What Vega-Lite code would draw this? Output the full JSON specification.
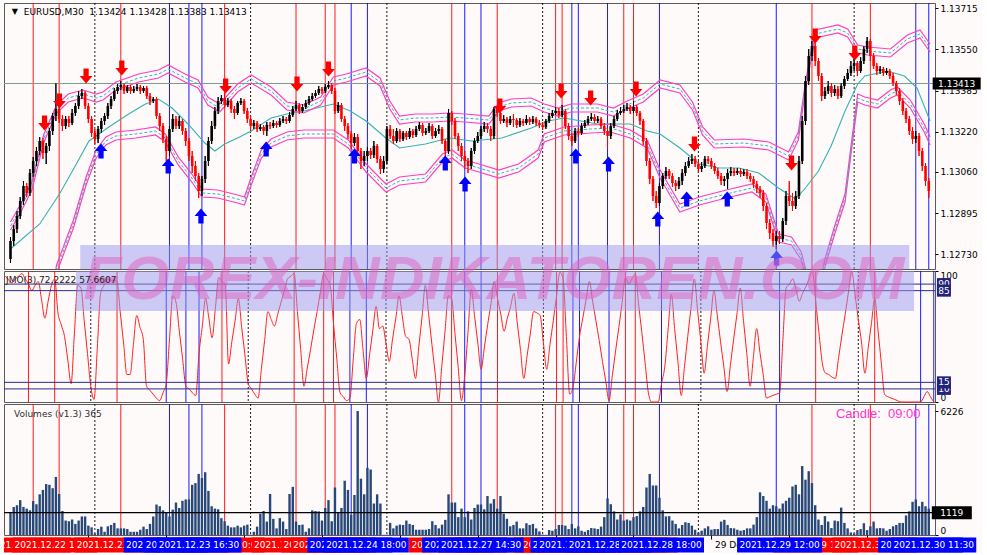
{
"$schema":"https://vega.github.io/schema/vega-lite/v6.json",
"background":"#fffafa",
"padding":{"left":2,"top":2,"right":0,"bottom":0},
"bounds":"flush",
"spacing":2,
"config":{"view":{"stroke":"#5a5a5a","strokeWidth":1},"axis":{"labelFont":"DejaVu Sans","labelFontSize":9,"labelColor":"#000000","tickColor":"#000000","tickSize":3,"domain":false,"grid":false,"labelPadding":2},"text":{"font":"DejaVu Sans"}},
"datasets":{
"c":[
{"i":0,"o":1.12711,"h":1.12799,"l":1.12695,"c":1.12783,"v":1154,"j":96},
{"i":1,"o":1.12783,"h":1.12847,"l":1.12763,"c":1.12831,"v":1410,"j":93},
{"i":2,"o":1.12831,"h":1.12903,"l":1.12815,"c":1.12883,"v":1496,"j":91},
{"i":3,"o":1.12883,"h":1.12959,"l":1.12871,"c":1.12943,"v":1752,"j":94},
{"i":4,"o":1.12943,"h":1.13023,"l":1.12927,"c":1.13003,"v":1410,"j":96},
{"i":5,"o":1.13003,"h":1.13015,"l":1.12959,"c":1.12975,"v":1325,"j":98},
{"i":6,"o":1.12975,"h":1.13071,"l":1.12963,"c":1.13055,"v":1239,"j":94},
{"i":7,"o":1.13055,"h":1.13119,"l":1.13039,"c":1.13103,"v":1701,"j":90},
{"i":8,"o":1.13103,"h":1.13159,"l":1.13083,"c":1.13143,"v":1547,"j":85},
{"i":9,"o":1.13143,"h":1.13199,"l":1.13127,"c":1.13183,"v":2043,"j":89},
{"i":10,"o":1.13183,"h":1.13195,"l":1.13111,"c":1.13135,"v":2265,"j":92},
{"i":11,"o":1.13135,"h":1.13175,"l":1.13091,"c":1.13163,"v":2556,"j":78},
{"i":12,"o":1.13163,"h":1.13235,"l":1.13143,"c":1.13223,"v":2521,"j":64},
{"i":13,"o":1.13223,"h":1.13295,"l":1.13207,"c":1.13283,"v":2350,"j":77},
{"i":14,"o":1.13283,"h":1.13415,"l":1.13263,"c":1.13311,"v":2915,"j":89},
{"i":15,"o":1.13311,"h":1.13327,"l":1.13255,"c":1.13271,"v":2060,"j":94},
{"i":16,"o":1.13271,"h":1.13287,"l":1.13223,"c":1.13243,"v":1205,"j":68},
{"i":17,"o":1.13243,"h":1.13283,"l":1.13231,"c":1.13271,"v":726,"j":59},
{"i":18,"o":1.13271,"h":1.13283,"l":1.13239,"c":1.13255,"v":692,"j":50},
{"i":19,"o":1.13255,"h":1.13311,"l":1.13247,"c":1.13295,"v":778,"j":32},
{"i":20,"o":1.13295,"h":1.13335,"l":1.13283,"c":1.13323,"v":556,"j":14},
{"i":21,"o":1.13323,"h":1.13383,"l":1.13311,"c":1.13363,"v":726,"j":52},
{"i":22,"o":1.13363,"h":1.13391,"l":1.13351,"c":1.13375,"v":932,"j":89},
{"i":23,"o":1.13375,"h":1.13383,"l":1.13311,"c":1.13323,"v":932,"j":87},
{"i":24,"o":1.13323,"h":1.13335,"l":1.13255,"c":1.13271,"v":470,"j":62},
{"i":25,"o":1.13271,"h":1.13283,"l":1.13199,"c":1.13215,"v":385,"j":37},
{"i":26,"o":1.13215,"h":1.13231,"l":1.13171,"c":1.13191,"v":77,"j":12},
{"i":27,"o":1.13191,"h":1.13243,"l":1.13175,"c":1.13231,"v":299,"j":2},
{"i":28,"o":1.13231,"h":1.13275,"l":1.13215,"c":1.13263,"v":419,"j":42},
{"i":29,"o":1.13263,"h":1.13295,"l":1.13247,"c":1.13283,"v":162,"j":83},
{"i":30,"o":1.13283,"h":1.13335,"l":1.13271,"c":1.13323,"v":436,"j":89},
{"i":31,"o":1.13323,"h":1.13363,"l":1.13311,"c":1.13351,"v":504,"j":94},
{"i":32,"o":1.13351,"h":1.13395,"l":1.13343,"c":1.13383,"v":607,"j":93},
{"i":33,"o":1.13383,"h":1.13411,"l":1.13371,"c":1.13399,"v":333,"j":93},
{"i":34,"o":1.13399,"h":1.13423,"l":1.13387,"c":1.13407,"v":333,"j":92},
{"i":35,"o":1.13407,"h":1.13415,"l":1.13371,"c":1.13383,"v":333,"j":68},
{"i":36,"o":1.13383,"h":1.13407,"l":1.13375,"c":1.13399,"v":299,"j":45},
{"i":37,"o":1.13399,"h":1.13407,"l":1.13371,"c":1.13383,"v":162,"j":21},
{"i":38,"o":1.13383,"h":1.13403,"l":1.13375,"c":1.13391,"v":162,"j":21},
{"i":39,"o":1.13391,"h":1.13411,"l":1.13383,"c":1.13399,"v":162,"j":44},
{"i":40,"o":1.13399,"h":1.13407,"l":1.13371,"c":1.13383,"v":265,"j":66},
{"i":41,"o":1.13383,"h":1.13403,"l":1.13375,"c":1.13395,"v":419,"j":57},
{"i":42,"o":1.13395,"h":1.13403,"l":1.13351,"c":1.13363,"v":299,"j":48},
{"i":43,"o":1.13363,"h":1.13375,"l":1.13327,"c":1.13343,"v":556,"j":12},
{"i":44,"o":1.13343,"h":1.13359,"l":1.13335,"c":1.13351,"v":932,"j":9},
{"i":45,"o":1.13351,"h":1.13359,"l":1.13271,"c":1.13283,"v":1530,"j":6},
{"i":46,"o":1.13283,"h":1.13295,"l":1.13223,"c":1.13243,"v":1445,"j":3},
{"i":47,"o":1.13243,"h":1.13255,"l":1.13175,"c":1.13191,"v":1239,"j":1},
{"i":48,"o":1.13191,"h":1.13203,"l":1.13103,"c":1.13143,"v":1154,"j":7},
{"i":49,"o":1.13143,"h":1.13243,"l":1.13123,"c":1.13231,"v":932,"j":14},
{"i":50,"o":1.13231,"h":1.13291,"l":1.13219,"c":1.13271,"v":1273,"j":48},
{"i":51,"o":1.13271,"h":1.13283,"l":1.13231,"c":1.13243,"v":1632,"j":81},
{"i":52,"o":1.13243,"h":1.13283,"l":1.13231,"c":1.13263,"v":1359,"j":76},
{"i":53,"o":1.13263,"h":1.13271,"l":1.13207,"c":1.13223,"v":1718,"j":54},
{"i":54,"o":1.13223,"h":1.13235,"l":1.13163,"c":1.13183,"v":1786,"j":33},
{"i":55,"o":1.13183,"h":1.13195,"l":1.13103,"c":1.13123,"v":1786,"j":12},
{"i":56,"o":1.13123,"h":1.13143,"l":1.13055,"c":1.13083,"v":2521,"j":10},
{"i":57,"o":1.13083,"h":1.13103,"l":1.13023,"c":1.13043,"v":2607,"j":7},
{"i":58,"o":1.13043,"h":1.13055,"l":1.12955,"c":1.12983,"v":3068,"j":5},
{"i":59,"o":1.12983,"h":1.13043,"l":1.12963,"c":1.13031,"v":2863,"j":37},
{"i":60,"o":1.13031,"h":1.13123,"l":1.13015,"c":1.13103,"v":3154,"j":58},
{"i":61,"o":1.13103,"h":1.13199,"l":1.13083,"c":1.13183,"v":2214,"j":79},
{"i":62,"o":1.13183,"h":1.13263,"l":1.13171,"c":1.13243,"v":1445,"j":64},
{"i":63,"o":1.13243,"h":1.13319,"l":1.13231,"c":1.13303,"v":1325,"j":49},
{"i":64,"o":1.13303,"h":1.13359,"l":1.13291,"c":1.13343,"v":1291,"j":72},
{"i":65,"o":1.13343,"h":1.13367,"l":1.13331,"c":1.13355,"v":846,"j":95},
{"i":66,"o":1.13355,"h":1.13375,"l":1.13315,"c":1.13327,"v":692,"j":92},
{"i":67,"o":1.13327,"h":1.13355,"l":1.13319,"c":1.13343,"v":470,"j":89},
{"i":68,"o":1.13343,"h":1.13351,"l":1.13295,"c":1.13311,"v":385,"j":29},
{"i":69,"o":1.13311,"h":1.13323,"l":1.13271,"c":1.13295,"v":385,"j":46},
{"i":70,"o":1.13295,"h":1.13343,"l":1.13287,"c":1.13335,"v":470,"j":62},
{"i":71,"o":1.13335,"h":1.13355,"l":1.13327,"c":1.13343,"v":385,"j":79},
{"i":72,"o":1.13343,"h":1.13351,"l":1.13291,"c":1.13303,"v":470,"j":57},
{"i":73,"o":1.13303,"h":1.13315,"l":1.13255,"c":1.13271,"v":521,"j":36},
{"i":74,"o":1.13271,"h":1.13283,"l":1.13223,"c":1.13243,"v":20,"j":14},
{"i":75,"o":1.13243,"h":1.13267,"l":1.13231,"c":1.13255,"v":162,"j":10},
{"i":76,"o":1.13255,"h":1.13263,"l":1.13219,"c":1.13231,"v":419,"j":6},
{"i":77,"o":1.13231,"h":1.13251,"l":1.13223,"c":1.13239,"v":1068,"j":3},
{"i":78,"o":1.13239,"h":1.13247,"l":1.13207,"c":1.13223,"v":1205,"j":25},
{"i":79,"o":1.13223,"h":1.13259,"l":1.13203,"c":1.13247,"v":675,"j":47},
{"i":80,"o":1.13247,"h":1.13259,"l":1.13231,"c":1.13243,"v":2060,"j":69},
{"i":81,"o":1.13243,"h":1.13267,"l":1.13235,"c":1.13255,"v":812,"j":63},
{"i":82,"o":1.13255,"h":1.13263,"l":1.13235,"c":1.13247,"v":333,"j":58},
{"i":83,"o":1.13247,"h":1.13275,"l":1.13239,"c":1.13263,"v":846,"j":67},
{"i":84,"o":1.13263,"h":1.13283,"l":1.13255,"c":1.13271,"v":675,"j":76},
{"i":85,"o":1.13271,"h":1.13279,"l":1.13251,"c":1.13263,"v":299,"j":85},
{"i":86,"o":1.13263,"h":1.13299,"l":1.13255,"c":1.13287,"v":2060,"j":94},
{"i":87,"o":1.13287,"h":1.13323,"l":1.13279,"c":1.13311,"v":2419,"j":96},
{"i":88,"o":1.13311,"h":1.13343,"l":1.13303,"c":1.13327,"v":675,"j":98},
{"i":89,"o":1.13327,"h":1.13335,"l":1.13291,"c":1.13303,"v":504,"j":69},
{"i":90,"o":1.13303,"h":1.13331,"l":1.13295,"c":1.13319,"v":521,"j":40},
{"i":91,"o":1.13319,"h":1.13347,"l":1.13311,"c":1.13335,"v":162,"j":12},
{"i":92,"o":1.13335,"h":1.13363,"l":1.13327,"c":1.13351,"v":333,"j":26},
{"i":93,"o":1.13351,"h":1.13375,"l":1.13343,"c":1.13363,"v":1239,"j":40},
{"i":94,"o":1.13363,"h":1.13387,"l":1.13355,"c":1.13375,"v":1205,"j":55},
{"i":95,"o":1.13375,"h":1.13403,"l":1.13367,"c":1.13391,"v":1188,"j":69},
{"i":96,"o":1.13391,"h":1.13399,"l":1.13371,"c":1.13383,"v":726,"j":84},
{"i":97,"o":1.13383,"h":1.13411,"l":1.13375,"c":1.13399,"v":1359,"j":98},
{"i":98,"o":1.13399,"h":1.13423,"l":1.13391,"c":1.13407,"v":1752,"j":94},
{"i":99,"o":1.13407,"h":1.13415,"l":1.13371,"c":1.13383,"v":692,"j":89},
{"i":100,"o":1.13383,"h":1.13395,"l":1.13291,"c":1.13303,"v":2385,"j":60},
{"i":101,"o":1.13303,"h":1.13339,"l":1.13295,"c":1.13327,"v":1154,"j":33},
{"i":102,"o":1.13327,"h":1.13335,"l":1.13259,"c":1.13271,"v":1359,"j":7},
{"i":103,"o":1.13271,"h":1.13283,"l":1.13223,"c":1.13243,"v":2726,"j":4},
{"i":104,"o":1.13243,"h":1.13255,"l":1.13191,"c":1.13211,"v":2265,"j":1},
{"i":105,"o":1.13211,"h":1.13223,"l":1.13151,"c":1.13175,"v":1017,"j":3},
{"i":106,"o":1.13175,"h":1.13215,"l":1.13163,"c":1.13199,"v":2009,"j":32},
{"i":107,"o":1.13199,"h":1.13211,"l":1.13123,"c":1.13143,"v":6226,"j":60},
{"i":108,"o":1.13143,"h":1.13155,"l":1.13071,"c":1.13103,"v":2829,"j":63},
{"i":109,"o":1.13103,"h":1.13143,"l":1.13083,"c":1.13123,"v":2043,"j":40},
{"i":110,"o":1.13123,"h":1.13159,"l":1.13103,"c":1.13143,"v":3376,"j":18},
{"i":111,"o":1.13143,"h":1.13155,"l":1.13111,"c":1.13127,"v":3291,"j":36},
{"i":112,"o":1.13127,"h":1.13183,"l":1.13115,"c":1.13163,"v":1581,"j":55},
{"i":113,"o":1.13163,"h":1.13171,"l":1.13095,"c":1.13111,"v":2043,"j":73},
{"i":114,"o":1.13111,"h":1.13123,"l":1.13051,"c":1.13071,"v":1581,"j":56},
{"i":115,"o":1.13071,"h":1.13123,"l":1.13055,"c":1.13103,"v":10,"j":58},
{"i":116,"o":1.13103,"h":1.13243,"l":1.13091,"c":1.13231,"v":20,"j":45},
{"i":117,"o":1.13231,"h":1.13247,"l":1.13191,"c":1.13203,"v":607,"j":31},
{"i":118,"o":1.13203,"h":1.13231,"l":1.13171,"c":1.13183,"v":333,"j":48},
{"i":119,"o":1.13183,"h":1.13235,"l":1.13175,"c":1.13223,"v":470,"j":64},
{"i":120,"o":1.13223,"h":1.13231,"l":1.13179,"c":1.13191,"v":521,"j":81},
{"i":121,"o":1.13191,"h":1.13223,"l":1.13183,"c":1.13215,"v":504,"j":65},
{"i":122,"o":1.13215,"h":1.13223,"l":1.13187,"c":1.13199,"v":726,"j":50},
{"i":123,"o":1.13199,"h":1.13235,"l":1.13191,"c":1.13223,"v":556,"j":48},
{"i":124,"o":1.13223,"h":1.13231,"l":1.13195,"c":1.13207,"v":504,"j":33},
{"i":125,"o":1.13207,"h":1.13243,"l":1.13199,"c":1.13231,"v":265,"j":18},
{"i":126,"o":1.13231,"h":1.13259,"l":1.13223,"c":1.13247,"v":265,"j":42},
{"i":127,"o":1.13247,"h":1.13255,"l":1.13203,"c":1.13215,"v":265,"j":65},
{"i":128,"o":1.13215,"h":1.13235,"l":1.13207,"c":1.13223,"v":265,"j":89},
{"i":129,"o":1.13223,"h":1.13255,"l":1.13215,"c":1.13243,"v":299,"j":67},
{"i":130,"o":1.13243,"h":1.13251,"l":1.13191,"c":1.13203,"v":692,"j":44},
{"i":131,"o":1.13203,"h":1.13235,"l":1.13195,"c":1.13223,"v":504,"j":22},
{"i":132,"o":1.13223,"h":1.13247,"l":1.13211,"c":1.13231,"v":333,"j":0},
{"i":133,"o":1.13231,"h":1.13239,"l":1.13171,"c":1.13183,"v":521,"j":27},
{"i":134,"o":1.13183,"h":1.13191,"l":1.13115,"c":1.13143,"v":761,"j":54},
{"i":135,"o":1.13143,"h":1.13311,"l":1.13131,"c":1.13295,"v":2043,"j":81},
{"i":136,"o":1.13295,"h":1.13303,"l":1.13247,"c":1.13263,"v":1632,"j":79},
{"i":137,"o":1.13263,"h":1.13275,"l":1.13191,"c":1.13203,"v":1632,"j":53},
{"i":138,"o":1.13203,"h":1.13215,"l":1.13143,"c":1.13163,"v":897,"j":27},
{"i":139,"o":1.13163,"h":1.13175,"l":1.13103,"c":1.13123,"v":1325,"j":1},
{"i":140,"o":1.13123,"h":1.13143,"l":1.13071,"c":1.13103,"v":897,"j":20},
{"i":141,"o":1.13103,"h":1.13115,"l":1.13055,"c":1.13083,"v":1188,"j":53},
{"i":142,"o":1.13083,"h":1.13155,"l":1.13071,"c":1.13143,"v":778,"j":86},
{"i":143,"o":1.13143,"h":1.13195,"l":1.13131,"c":1.13183,"v":1359,"j":66},
{"i":144,"o":1.13183,"h":1.13219,"l":1.13175,"c":1.13203,"v":1530,"j":45},
{"i":145,"o":1.13203,"h":1.13243,"l":1.13191,"c":1.13231,"v":1530,"j":25},
{"i":146,"o":1.13231,"h":1.13259,"l":1.13219,"c":1.13243,"v":1291,"j":42},
{"i":147,"o":1.13243,"h":1.13255,"l":1.13215,"c":1.13231,"v":1957,"j":59},
{"i":148,"o":1.13231,"h":1.13243,"l":1.13183,"c":1.13203,"v":1581,"j":75},
{"i":149,"o":1.13203,"h":1.13319,"l":1.13191,"c":1.13311,"v":1803,"j":92},
{"i":150,"o":1.13311,"h":1.13323,"l":1.13279,"c":1.13295,"v":1325,"j":79},
{"i":151,"o":1.13295,"h":1.13303,"l":1.13251,"c":1.13263,"v":1957,"j":67},
{"i":152,"o":1.13263,"h":1.13287,"l":1.13255,"c":1.13271,"v":1068,"j":54},
{"i":153,"o":1.13271,"h":1.13279,"l":1.13239,"c":1.13255,"v":812,"j":64},
{"i":154,"o":1.13255,"h":1.13283,"l":1.13247,"c":1.13271,"v":436,"j":73},
{"i":155,"o":1.13271,"h":1.13291,"l":1.13239,"c":1.13267,"v":504,"j":83},
{"i":156,"o":1.13267,"h":1.13275,"l":1.13235,"c":1.13247,"v":675,"j":61},
{"i":157,"o":1.13247,"h":1.13275,"l":1.13239,"c":1.13263,"v":333,"j":40},
{"i":158,"o":1.13263,"h":1.13271,"l":1.13243,"c":1.13255,"v":333,"j":18},
{"i":159,"o":1.13255,"h":1.13287,"l":1.13247,"c":1.13271,"v":590,"j":35},
{"i":160,"o":1.13271,"h":1.13279,"l":1.13247,"c":1.13259,"v":504,"j":52},
{"i":161,"o":1.13259,"h":1.13283,"l":1.13251,"c":1.13271,"v":556,"j":69},
{"i":162,"o":1.13271,"h":1.13279,"l":1.13243,"c":1.13255,"v":333,"j":68},
{"i":163,"o":1.13255,"h":1.13267,"l":1.13235,"c":1.13247,"v":180,"j":66},
{"i":164,"o":1.13247,"h":1.13259,"l":1.13227,"c":1.13239,"v":20,"j":45},
{"i":165,"o":1.13239,"h":1.13271,"l":1.13231,"c":1.13263,"v":10,"j":25},
{"i":166,"o":1.13263,"h":1.13295,"l":1.13255,"c":1.13283,"v":248,"j":44},
{"i":167,"o":1.13283,"h":1.13307,"l":1.13275,"c":1.13295,"v":214,"j":62},
{"i":168,"o":1.13295,"h":1.13319,"l":1.13287,"c":1.13303,"v":299,"j":81},
{"i":169,"o":1.13303,"h":1.13315,"l":1.13275,"c":1.13287,"v":504,"j":99},
{"i":170,"o":1.13287,"h":1.13327,"l":1.13279,"c":1.13303,"v":504,"j":94},
{"i":171,"o":1.13303,"h":1.13311,"l":1.13231,"c":1.13243,"v":470,"j":50},
{"i":172,"o":1.13243,"h":1.13255,"l":1.13187,"c":1.13203,"v":299,"j":6},
{"i":173,"o":1.13203,"h":1.13215,"l":1.13163,"c":1.13183,"v":556,"j":11},
{"i":174,"o":1.13183,"h":1.13235,"l":1.13175,"c":1.13223,"v":333,"j":30},
{"i":175,"o":1.13223,"h":1.13235,"l":1.13199,"c":1.13215,"v":436,"j":50},
{"i":176,"o":1.13215,"h":1.13255,"l":1.13207,"c":1.13243,"v":214,"j":64},
{"i":177,"o":1.13243,"h":1.13267,"l":1.13235,"c":1.13255,"v":162,"j":78},
{"i":178,"o":1.13255,"h":1.13283,"l":1.13247,"c":1.13271,"v":248,"j":92},
{"i":179,"o":1.13271,"h":1.13295,"l":1.13263,"c":1.13279,"v":350,"j":77},
{"i":180,"o":1.13279,"h":1.13291,"l":1.13255,"c":1.13263,"v":333,"j":62},
{"i":181,"o":1.13263,"h":1.13283,"l":1.13255,"c":1.13271,"v":299,"j":47},
{"i":182,"o":1.13271,"h":1.13279,"l":1.13231,"c":1.13243,"v":419,"j":31},
{"i":183,"o":1.13243,"h":1.13255,"l":1.13207,"c":1.13223,"v":897,"j":16},
{"i":184,"o":1.13223,"h":1.13235,"l":1.13151,"c":1.13203,"v":1838,"j":1},
{"i":185,"o":1.13203,"h":1.13255,"l":1.13191,"c":1.13243,"v":1547,"j":20},
{"i":186,"o":1.13243,"h":1.13283,"l":1.13235,"c":1.13271,"v":1188,"j":39},
{"i":187,"o":1.13271,"h":1.13307,"l":1.13263,"c":1.13295,"v":778,"j":57},
{"i":188,"o":1.13295,"h":1.13319,"l":1.13287,"c":1.13303,"v":1034,"j":76},
{"i":189,"o":1.13303,"h":1.13327,"l":1.13295,"c":1.13311,"v":726,"j":95},
{"i":190,"o":1.13311,"h":1.13335,"l":1.13303,"c":1.13319,"v":778,"j":90},
{"i":191,"o":1.13319,"h":1.13327,"l":1.13291,"c":1.13303,"v":726,"j":94},
{"i":192,"o":1.13303,"h":1.13343,"l":1.13295,"c":1.13319,"v":897,"j":98},
{"i":193,"o":1.13319,"h":1.13327,"l":1.13283,"c":1.13295,"v":949,"j":75},
{"i":194,"o":1.13295,"h":1.13303,"l":1.13247,"c":1.13263,"v":1188,"j":53},
{"i":195,"o":1.13263,"h":1.13271,"l":1.13167,"c":1.13183,"v":1410,"j":30},
{"i":196,"o":1.13183,"h":1.13195,"l":1.13083,"c":1.13103,"v":2385,"j":7},
{"i":197,"o":1.13103,"h":1.13115,"l":1.13011,"c":1.13031,"v":3068,"j":0},
{"i":198,"o":1.13031,"h":1.13043,"l":1.12943,"c":1.12963,"v":2487,"j":0},
{"i":199,"o":1.12963,"h":1.12983,"l":1.12915,"c":1.12935,"v":2487,"j":0},
{"i":200,"o":1.12935,"h":1.13015,"l":1.12923,"c":1.13003,"v":1872,"j":14},
{"i":201,"o":1.13003,"h":1.13055,"l":1.12991,"c":1.13043,"v":1239,"j":27},
{"i":202,"o":1.13043,"h":1.13079,"l":1.13031,"c":1.13063,"v":932,"j":55},
{"i":203,"o":1.13063,"h":1.13071,"l":1.13031,"c":1.13043,"v":949,"j":82},
{"i":204,"o":1.13043,"h":1.13055,"l":1.12999,"c":1.13015,"v":726,"j":56},
{"i":205,"o":1.13015,"h":1.13027,"l":1.12983,"c":1.13003,"v":556,"j":31},
{"i":206,"o":1.13003,"h":1.13039,"l":1.12991,"c":1.13023,"v":333,"j":5},
{"i":207,"o":1.13023,"h":1.13071,"l":1.13007,"c":1.13055,"v":504,"j":27},
{"i":208,"o":1.13055,"h":1.13099,"l":1.13043,"c":1.13083,"v":641,"j":50},
{"i":209,"o":1.13083,"h":1.13119,"l":1.13075,"c":1.13103,"v":607,"j":72},
{"i":210,"o":1.13103,"h":1.13131,"l":1.13091,"c":1.13111,"v":470,"j":94},
{"i":211,"o":1.13111,"h":1.13123,"l":1.13079,"c":1.13091,"v":265,"j":70},
{"i":212,"o":1.13091,"h":1.13103,"l":1.13055,"c":1.13071,"v":128,"j":46},
{"i":213,"o":1.13071,"h":1.13099,"l":1.13059,"c":1.13083,"v":214,"j":22},
{"i":214,"o":1.13083,"h":1.13123,"l":1.13075,"c":1.13111,"v":333,"j":43},
{"i":215,"o":1.13111,"h":1.13123,"l":1.13091,"c":1.13103,"v":436,"j":64},
{"i":216,"o":1.13103,"h":1.13115,"l":1.13071,"c":1.13083,"v":265,"j":85},
{"i":217,"o":1.13083,"h":1.13095,"l":1.13051,"c":1.13063,"v":299,"j":66},
{"i":218,"o":1.13063,"h":1.13075,"l":1.13031,"c":1.13043,"v":299,"j":46},
{"i":219,"o":1.13043,"h":1.13055,"l":1.13007,"c":1.13023,"v":675,"j":27},
{"i":220,"o":1.13023,"h":1.13043,"l":1.13003,"c":1.13031,"v":761,"j":8},
{"i":221,"o":1.13031,"h":1.13071,"l":1.12991,"c":1.13055,"v":504,"j":28},
{"i":222,"o":1.13055,"h":1.13079,"l":1.13043,"c":1.13063,"v":350,"j":48},
{"i":223,"o":1.13063,"h":1.13075,"l":1.13043,"c":1.13055,"v":333,"j":67},
{"i":224,"o":1.13055,"h":1.13075,"l":1.13047,"c":1.13063,"v":265,"j":87},
{"i":225,"o":1.13063,"h":1.13075,"l":1.13039,"c":1.13051,"v":214,"j":62},
{"i":226,"o":1.13051,"h":1.13071,"l":1.13043,"c":1.13059,"v":248,"j":37},
{"i":227,"o":1.13059,"h":1.13071,"l":1.13031,"c":1.13043,"v":333,"j":12},
{"i":228,"o":1.13043,"h":1.13055,"l":1.13019,"c":1.13031,"v":333,"j":34},
{"i":229,"o":1.13031,"h":1.13043,"l":1.12995,"c":1.13011,"v":521,"j":56},
{"i":230,"o":1.13011,"h":1.13023,"l":1.12975,"c":1.12991,"v":897,"j":38},
{"i":231,"o":1.12991,"h":1.13003,"l":1.12955,"c":1.12975,"v":2145,"j":21},
{"i":232,"o":1.12975,"h":1.12987,"l":1.12903,"c":1.12923,"v":1957,"j":3},
{"i":233,"o":1.12923,"h":1.12935,"l":1.12831,"c":1.12855,"v":1718,"j":4},
{"i":234,"o":1.12855,"h":1.12871,"l":1.12791,"c":1.12815,"v":1325,"j":5},
{"i":235,"o":1.12815,"h":1.12831,"l":1.12759,"c":1.12783,"v":1496,"j":6},
{"i":236,"o":1.12783,"h":1.12823,"l":1.12751,"c":1.12803,"v":1445,"j":7},
{"i":237,"o":1.12803,"h":1.12823,"l":1.12771,"c":1.12791,"v":1325,"j":47},
{"i":238,"o":1.12791,"h":1.12875,"l":1.12779,"c":1.12863,"v":1581,"j":87},
{"i":239,"o":1.12863,"h":1.12983,"l":1.12847,"c":1.12963,"v":1718,"j":90},
{"i":240,"o":1.12963,"h":1.13023,"l":1.12923,"c":1.12943,"v":1872,"j":94},
{"i":241,"o":1.12943,"h":1.12975,"l":1.12903,"c":1.12923,"v":2436,"j":86},
{"i":242,"o":1.12923,"h":1.12983,"l":1.12911,"c":1.12963,"v":2521,"j":77},
{"i":243,"o":1.12963,"h":1.13123,"l":1.12951,"c":1.13103,"v":2043,"j":83},
{"i":244,"o":1.13103,"h":1.13283,"l":1.13091,"c":1.13263,"v":3462,"j":88},
{"i":245,"o":1.13263,"h":1.13443,"l":1.13247,"c":1.13423,"v":2778,"j":94},
{"i":246,"o":1.13423,"h":1.13551,"l":1.13407,"c":1.13523,"v":3205,"j":100},
{"i":247,"o":1.13523,"h":1.13583,"l":1.13503,"c":1.13563,"v":2607,"j":77},
{"i":248,"o":1.13563,"h":1.13575,"l":1.13483,"c":1.13503,"v":1496,"j":53},
{"i":249,"o":1.13503,"h":1.13515,"l":1.13423,"c":1.13443,"v":778,"j":30},
{"i":250,"o":1.13443,"h":1.13455,"l":1.13343,"c":1.13363,"v":504,"j":22},
{"i":251,"o":1.13363,"h":1.13399,"l":1.13351,"c":1.13383,"v":949,"j":21},
{"i":252,"o":1.13383,"h":1.13423,"l":1.13371,"c":1.13403,"v":675,"j":19},
{"i":253,"o":1.13403,"h":1.13415,"l":1.13359,"c":1.13375,"v":350,"j":18},
{"i":254,"o":1.13375,"h":1.13407,"l":1.13363,"c":1.13391,"v":726,"j":34},
{"i":255,"o":1.13391,"h":1.13403,"l":1.13351,"c":1.13363,"v":692,"j":51},
{"i":256,"o":1.13363,"h":1.13415,"l":1.13355,"c":1.13403,"v":1376,"j":67},
{"i":257,"o":1.13403,"h":1.13443,"l":1.13391,"c":1.13431,"v":607,"j":84},
{"i":258,"o":1.13431,"h":1.13471,"l":1.13423,"c":1.13455,"v":333,"j":100},
{"i":259,"o":1.13455,"h":1.13503,"l":1.13443,"c":1.13483,"v":128,"j":82},
{"i":260,"o":1.13483,"h":1.13511,"l":1.13463,"c":1.13495,"v":77,"j":63},
{"i":261,"o":1.13495,"h":1.13503,"l":1.13443,"c":1.13463,"v":248,"j":45},
{"i":262,"o":1.13463,"h":1.13519,"l":1.13455,"c":1.13503,"v":299,"j":22},
{"i":263,"o":1.13503,"h":1.13563,"l":1.13491,"c":1.13551,"v":590,"j":41},
{"i":264,"o":1.13551,"h":1.13599,"l":1.13535,"c":1.13583,"v":248,"j":60},
{"i":265,"o":1.13583,"h":1.13591,"l":1.13503,"c":1.13523,"v":436,"j":79},
{"i":266,"o":1.13523,"h":1.13535,"l":1.13471,"c":1.13483,"v":675,"j":55},
{"i":267,"o":1.13483,"h":1.13495,"l":1.13447,"c":1.13463,"v":333,"j":30},
{"i":268,"o":1.13463,"h":1.13483,"l":1.13451,"c":1.13471,"v":350,"j":6},
{"i":269,"o":1.13471,"h":1.13479,"l":1.13443,"c":1.13455,"v":333,"j":4},
{"i":270,"o":1.13455,"h":1.13475,"l":1.13447,"c":1.13463,"v":214,"j":3},
{"i":271,"o":1.13463,"h":1.13471,"l":1.13431,"c":1.13443,"v":299,"j":2},
{"i":272,"o":1.13443,"h":1.13455,"l":1.13403,"c":1.13415,"v":436,"j":1},
{"i":273,"o":1.13415,"h":1.13423,"l":1.13367,"c":1.13383,"v":504,"j":0},
{"i":274,"o":1.13383,"h":1.13395,"l":1.13327,"c":1.13343,"v":607,"j":0},
{"i":275,"o":1.13343,"h":1.13355,"l":1.13287,"c":1.13303,"v":607,"j":0},
{"i":276,"o":1.13303,"h":1.13315,"l":1.13255,"c":1.13271,"v":983,"j":0},
{"i":277,"o":1.13271,"h":1.13283,"l":1.13207,"c":1.13223,"v":1188,"j":0},
{"i":278,"o":1.13223,"h":1.13239,"l":1.13171,"c":1.13191,"v":1667,"j":0},
{"i":279,"o":1.13191,"h":1.13223,"l":1.13175,"c":1.13203,"v":1786,"j":0},
{"i":280,"o":1.13203,"h":1.13215,"l":1.13123,"c":1.13143,"v":1445,"j":4},
{"i":281,"o":1.13143,"h":1.13155,"l":1.13063,"c":1.13083,"v":1667,"j":8},
{"i":282,"o":1.13083,"h":1.13095,"l":1.13003,"c":1.13023,"v":1445,"j":4},
{"i":283,"o":1.13023,"h":1.13035,"l":1.12955,"c":1.12983,"v":1325,"j":0}
],
"vl":[
{"i":7,"t":"r","k":0,"s":"2021.12.22 14:30"},
{"i":15,"t":"r","k":1,"s":"2021.12.22 18:30"},
{"i":34,"t":"r","k":2,"s":"2021.12.23 04:00"},
{"i":66,"t":"r","k":3,"s":"2021.12.23 20:00"},
{"i":88,"t":"r","k":4,"s":"2021.12.24 07:00"},
{"i":97,"t":"r","k":5,"s":"2021.12.24 11:30"},
{"i":100,"t":"r","k":6,"s":"2021.12.24 13:00"},
{"i":136,"t":"r","k":7,"s":"2021.12.27 10:00"},
{"i":150,"t":"r","k":8,"s":"2021.12.27 17:00"},
{"i":168,"t":"r","k":9,"s":"2021.12.28 02:00"},
{"i":170,"t":"r","k":10,"s":"2021.12.28 03:00"},
{"i":189,"t":"r","k":11,"s":"2021.12.28 12:30"},
{"i":192,"t":"r","k":12,"s":"2021.12.28 14:00"},
{"i":247,"t":"r","k":13,"s":"2021.12.29 17:30"},
{"i":265,"t":"r","k":14,"s":"2021.12.30 02:30"},
{"i":49,"t":"b","k":15,"s":"2021.12.23 11:30"},
{"i":55,"t":"b","k":16,"s":"2021.12.23 14:30"},
{"i":59,"t":"b","k":17,"s":"2021.12.23 16:30"},
{"i":105,"t":"b","k":18,"s":"2021.12.24 15:30"},
{"i":110,"t":"b","k":19,"s":"2021.12.24 18:00"},
{"i":140,"t":"b","k":20,"s":"2021.12.27 12:00"},
{"i":145,"t":"b","k":21,"s":"2021.12.27 14:30"},
{"i":173,"t":"b","k":22,"s":"2021.12.28 04:30"},
{"i":175,"t":"b","k":23,"s":"2021.12.28 05:30"},
{"i":184,"t":"b","k":24,"s":"2021.12.28 10:00"},
{"i":200,"t":"b","k":25,"s":"2021.12.28 18:00"},
{"i":236,"t":"b","k":26,"s":"2021.12.29 12:00"},
{"i":279,"t":"b","k":27,"s":"2021.12.30 09:30"},
{"i":283,"t":"b","k":28,"s":"2021.12.30 11:30"},
{"i":26,"t":"s"},{"i":74,"t":"s"},{"i":116,"t":"s"},{"i":164,"t":"s"},{"i":212,"t":"s"},{"i":260,"t":"s"}
],
"bd":[
{"s":"U","i":0,"p":1.12843},{"s":"U","i":3.5,"p":1.12923},{"s":"U","i":6.6,"p":1.13003},{"s":"U","i":10.2,"p":1.13191},{"s":"U","i":14.2,"p":1.13311},{"s":"U","i":17.8,"p":1.13355},{"s":"U","i":22.4,"p":1.13371},{"s":"U","i":26.4,"p":1.13355},{"s":"U","i":28.5,"p":1.13363},{"s":"U","i":32.5,"p":1.13403},{"s":"U","i":39.5,"p":1.13435},{"s":"U","i":45.6,"p":1.13451},{"s":"U","i":48.6,"p":1.13471},{"s":"U","i":53.8,"p":1.13435},{"s":"U","i":57.8,"p":1.13411},{"s":"U","i":60.8,"p":1.13343},{"s":"U","i":64.5,"p":1.13315},{"s":"U","i":70,"p":1.13395},{"s":"U","i":74.2,"p":1.13431},{"s":"U","i":80.3,"p":1.13383},{"s":"U","i":85.2,"p":1.13323},{"s":"U","i":90.4,"p":1.13311},{"s":"U","i":95.6,"p":1.13343},{"s":"U","i":99.5,"p":1.13423},{"s":"U","i":103.5,"p":1.13435},{"s":"U","i":109.6,"p":1.13459},{"s":"U","i":113.9,"p":1.13419},{"s":"U","i":116.9,"p":1.13327},{"s":"U","i":119.9,"p":1.13267},{"s":"U","i":124.8,"p":1.13275},{"s":"U","i":130,"p":1.13275},{"s":"U","i":135.2,"p":1.13279},{"s":"U","i":140.1,"p":1.13275},{"s":"U","i":147.4,"p":1.13267},{"s":"U","i":150.5,"p":1.13319},{"s":"U","i":154.4,"p":1.13335},{"s":"U","i":160.5,"p":1.13339},{"s":"U","i":164.5,"p":1.13315},{"s":"U","i":168.8,"p":1.13299},{"s":"U","i":172.7,"p":1.13315},{"s":"U","i":180.9,"p":1.13315},{"s":"U","i":185.8,"p":1.13299},{"s":"U","i":190.1,"p":1.13327},{"s":"U","i":195,"p":1.13355},{"s":"U","i":200.2,"p":1.13411},{"s":"U","i":206.3,"p":1.13391},{"s":"U","i":210.2,"p":1.13323},{"s":"U","i":213.3,"p":1.13223},{"s":"U","i":216.9,"p":1.13171},{"s":"U","i":226,"p":1.13175},{"s":"U","i":233.7,"p":1.13163},{"s":"U","i":239.8,"p":1.13123},{"s":"U","i":242.8,"p":1.13203},{"s":"U","i":245,"p":1.13403},{"s":"U","i":248,"p":1.13611},{"s":"U","i":255,"p":1.13631},{"s":"U","i":258,"p":1.13615},{"s":"U","i":261.1,"p":1.13551},{"s":"U","i":264.2,"p":1.13543},{"s":"U","i":271.2,"p":1.13535},{"s":"U","i":276.4,"p":1.13591},{"s":"U","i":280.3,"p":1.13611},{"s":"U","i":283.4,"p":1.13555},
{"s":"D","i":10,"p":1.1245},{"s":"D","i":12.7,"p":1.12543},{"s":"D","i":14.2,"p":1.12671},{"s":"D","i":19.4,"p":1.12851},{"s":"D","i":23.3,"p":1.13023},{"s":"D","i":26.4,"p":1.13131},{"s":"D","i":29.4,"p":1.13183},{"s":"D","i":32.5,"p":1.13203},{"s":"D","i":38.6,"p":1.13211},{"s":"D","i":44.7,"p":1.13223},{"s":"D","i":47.7,"p":1.13195},{"s":"D","i":51.7,"p":1.13103},{"s":"D","i":55.9,"p":1.13035},{"s":"D","i":59,"p":1.12975},{"s":"D","i":63.9,"p":1.12971},{"s":"D","i":70,"p":1.12951},{"s":"D","i":72.1,"p":1.12943},{"s":"D","i":74.2,"p":1.13023},{"s":"D","i":77.3,"p":1.13131},{"s":"D","i":80.3,"p":1.13175},{"s":"D","i":85.2,"p":1.13203},{"s":"D","i":90.4,"p":1.13211},{"s":"D","i":99.5,"p":1.13211},{"s":"D","i":104.1,"p":1.13171},{"s":"D","i":109.6,"p":1.13075},{"s":"D","i":115.7,"p":1.12995},{"s":"D","i":119.9,"p":1.13023},{"s":"D","i":127.9,"p":1.13035},{"s":"D","i":133.1,"p":1.13115},{"s":"D","i":136.1,"p":1.13131},{"s":"D","i":140.1,"p":1.13091},{"s":"D","i":144.4,"p":1.13075},{"s":"D","i":150.5,"p":1.13051},{"s":"D","i":156.6,"p":1.13075},{"s":"D","i":162.6,"p":1.13131},{"s":"D","i":164.5,"p":1.13195},{"s":"D","i":170.6,"p":1.13223},{"s":"D","i":178.8,"p":1.13231},{"s":"D","i":184.9,"p":1.13235},{"s":"D","i":191,"p":1.13211},{"s":"D","i":196.2,"p":1.13171},{"s":"D","i":200.2,"p":1.13051},{"s":"D","i":206.3,"p":1.12915},{"s":"D","i":212.3,"p":1.12943},{"s":"D","i":220.6,"p":1.12971},{"s":"D","i":228.5,"p":1.12995},{"s":"D","i":232.8,"p":1.12955},{"s":"D","i":236.7,"p":1.12795},{"s":"D","i":240.7,"p":1.12783},{"s":"D","i":243.7,"p":1.12723},{"s":"D","i":246.5,"p":1.12583},{"s":"D","i":249,"p":1.12583},{"s":"D","i":251,"p":1.12695},{"s":"D","i":254.1,"p":1.12831},{"s":"D","i":257.2,"p":1.12955},{"s":"D","i":259,"p":1.13143},{"s":"D","i":261.1,"p":1.13355},{"s":"D","i":263.3,"p":1.13343},{"s":"D","i":267.2,"p":1.13331},{"s":"D","i":271.2,"p":1.13371},{"s":"D","i":273.3,"p":1.13383},{"s":"D","i":277.3,"p":1.13331},{"s":"D","i":281.6,"p":1.13235},{"s":"D","i":283.4,"p":1.13183}
],
"ma":[
{"i":0,"p":1.12751},{"i":9,"p":1.12851},{"i":15.1,"p":1.12971},{"i":20.3,"p":1.13091},{"i":24.2,"p":1.13183},{"i":29.4,"p":1.13231},{"i":36.4,"p":1.13291},{"i":41.6,"p":1.13331},{"i":45.6,"p":1.13351},{"i":49.8,"p":1.13315},{"i":54.7,"p":1.13251},{"i":59.9,"p":1.13175},{"i":63,"p":1.13143},{"i":66,"p":1.13171},{"i":70,"p":1.13195},{"i":74.2,"p":1.13223},{"i":80.3,"p":1.13275},{"i":85.2,"p":1.13291},{"i":90.4,"p":1.13303},{"i":99.5,"p":1.13331},{"i":104.7,"p":1.13303},{"i":109.6,"p":1.13263},{"i":115.7,"p":1.13195},{"i":119.9,"p":1.13155},{"i":127.9,"p":1.13171},{"i":135.2,"p":1.13195},{"i":142.2,"p":1.13183},{"i":151.4,"p":1.13195},{"i":160.5,"p":1.13235},{"i":165.7,"p":1.13263},{"i":170.6,"p":1.13275},{"i":175.8,"p":1.13263},{"i":180.9,"p":1.13251},{"i":191,"p":1.13251},{"i":196.2,"p":1.13223},{"i":200.2,"p":1.13211},{"i":206.3,"p":1.13155},{"i":212.3,"p":1.13091},{"i":218.4,"p":1.13075},{"i":224.5,"p":1.13075},{"i":230.6,"p":1.13055},{"i":236.7,"p":1.12995},{"i":241.9,"p":1.12951},{"i":245,"p":1.12995},{"i":249,"p":1.13063},{"i":252.9,"p":1.13163},{"i":257.2,"p":1.13303},{"i":261.1,"p":1.13411},{"i":263.3,"p":1.13443},{"i":270.3,"p":1.13463},{"i":275.5,"p":1.13443},{"i":279.4,"p":1.13395},{"i":283.4,"p":1.13263}
],
"ar":[
{"t":"d","i":10.5,"p":1.13255},{"t":"d","i":15.1,"p":1.13343},{"t":"d","i":23.3,"p":1.13443},{"t":"d","i":34.3,"p":1.13475},{"t":"d","i":66.3,"p":1.13403},{"t":"d","i":88.3,"p":1.13411},{"t":"d","i":98,"p":1.13471},{"t":"d","i":150.8,"p":1.13323},{"t":"d","i":169.7,"p":1.13383},{"t":"d","i":178.8,"p":1.13355},{"t":"d","i":192.8,"p":1.13391},{"t":"d","i":210.8,"p":1.13171},{"t":"d","i":240.7,"p":1.13095},{"t":"d","i":248,"p":1.13603},{"t":"d","i":260.2,"p":1.13535},
{"t":"u","i":27.9,"p":1.13143},{"t":"u","i":48.6,"p":1.13083},{"t":"u","i":58.7,"p":1.12883},{"t":"u","i":78.8,"p":1.13151},{"t":"u","i":106,"p":1.13123},{"t":"u","i":134,"p":1.13095},{"t":"u","i":140.1,"p":1.13011},{"t":"u","i":174.2,"p":1.13123},{"t":"u","i":184.3,"p":1.13091},{"t":"u","i":199.5,"p":1.12871},{"t":"u","i":208.4,"p":1.12951},{"t":"u","i":220.9,"p":1.12951},{"t":"u","i":236.1,"p":1.12715}
]
},
"vconcat":[
{
"width":931,"height":266,
"layer":[
{"data":{"name":"vl"},"mark":{"type":"rule","strokeWidth":1,"opacity":0.9},"encoding":{"x":{"field":"i","type":"quantitative","scale":{"domain":[-0.457,283.38],"nice":false,"zero":false},"axis":{"labels":false,"ticks":false,"domain":false,"grid":false,"title":null}},"color":{"field":"t","type":"nominal","scale":{"domain":["r","b","s"],"range":["#ff0000","#0000ff","#000000"]},"legend":null},"strokeDash":{"field":"t","type":"nominal","scale":{"domain":["r","b","s"],"range":[[1,0],[1,0],[2,2]]},"legend":null}}},
{"data":{"name":"c"},"mark":{"type":"rule","strokeWidth":1},"encoding":{"x":{"field":"i","type":"quantitative"},"y":{"field":"l","type":"quantitative","scale":{"domain":[1.12671,1.13735],"nice":false,"zero":false},"axis":{"orient":"right","values":[1.13715,1.1355,1.13385,1.1322,1.1306,1.12895,1.1273],"format":".5f","title":null}},"y2":{"field":"h"},"color":{"condition":{"test":"datum.c < datum.o","value":"#ff0000"},"value":"#000000"}}},
{"data":{"values":[{}]},"mark":{"type":"rule","color":"#7d9c8c","strokeWidth":1},"encoding":{"y":{"datum":1.13413,"type":"quantitative"}}},
{"data":{"name":"ma"},"mark":{"type":"line","color":"#33b3b3","strokeWidth":1.1,"clip":true},"encoding":{"x":{"field":"i","type":"quantitative"},"y":{"field":"p","type":"quantitative"}}},
{"data":{"name":"bd"},"mark":{"type":"line","color":"#ff3fc0","strokeWidth":1.2,"yOffset":-4,"clip":true},"encoding":{"x":{"field":"i","type":"quantitative"},"y":{"field":"p","type":"quantitative"},"detail":{"field":"s","type":"nominal"}}},
{"data":{"name":"bd"},"mark":{"type":"line","color":"#ff3fc0","strokeWidth":1.2,"yOffset":4,"clip":true},"encoding":{"x":{"field":"i","type":"quantitative"},"y":{"field":"p","type":"quantitative"},"detail":{"field":"s","type":"nominal"}}},
{"data":{"name":"bd"},"mark":{"type":"line","color":"#33b3b3","strokeWidth":1,"strokeDash":[3,2],"clip":true},"encoding":{"x":{"field":"i","type":"quantitative"},"y":{"field":"p","type":"quantitative"},"detail":{"field":"s","type":"nominal"}}},
{"data":{"name":"c"},"mark":{"type":"rule","strokeWidth":1},"encoding":{"x":{"field":"i","type":"quantitative"},"y":{"field":"l","type":"quantitative"},"y2":{"field":"h"},"color":{"condition":{"test":"datum.c < datum.o","value":"#ff0000"},"value":"#000000"}}},
{"data":{"name":"c"},"mark":{"type":"bar","width":2.6},"encoding":{"x":{"field":"i","type":"quantitative"},"y":{"field":"o","type":"quantitative"},"y2":{"field":"c"},"color":{"condition":{"test":"datum.c < datum.o","value":"#ff0000"},"value":"#000000"}}},
{"data":{"name":"ar"},"transform":[{"filter":"datum.t=='d'"}],"mark":{"type":"point","shape":"M-0.35,-1L0.35,-1L0.35,0L0.85,0L0,1L-0.85,0L-0.35,0Z","filled":true,"color":"#ff0000","size":225,"opacity":1},"encoding":{"x":{"field":"i","type":"quantitative"},"y":{"field":"p","type":"quantitative"}}},
{"data":{"name":"ar"},"transform":[{"filter":"datum.t=='u'"}],"mark":{"type":"point","shape":"M-0.35,1L0.35,1L0.35,0L0.85,0L0,-1L-0.85,0L-0.35,0Z","filled":true,"color":"#0000ff","size":225,"opacity":1},"encoding":{"x":{"field":"i","type":"quantitative"},"y":{"field":"p","type":"quantitative"}}},
{"data":{"values":[{}]},"mark":{"type":"rect","color":"#9a9aee","opacity":0.5},"encoding":{"x":{"datum":21.5,"type":"quantitative"},"x2":{"datum":277},"y":{"datum":1.12767,"type":"quantitative"},"y2":{"datum":1.12671}}},
{"data":{"values":[{}]},"mark":{"type":"text","text":"▼","fontSize":8,"color":"#000000"},"encoding":{"x":{"datum":1.37,"type":"quantitative"},"y":{"datum":1.13699,"type":"quantitative"}}},
{"data":{"values":[{}]},"mark":{"type":"text","text":"EURUSD,M30\u00a0 1.13424 1.13428 1.13383 1.13413","align":"left","fontSize":9,"color":"#000000"},"encoding":{"x":{"datum":4.1,"type":"quantitative"},"y":{"datum":1.13699,"type":"quantitative"}}},
{"data":{"values":[{}]},"mark":{"type":"point","shape":"M-1,-0.25L1,-0.25L1,0.25L-1,0.25Z","filled":true,"color":"#000000","size":2304,"opacity":1},"encoding":{"x":{"datum":291.6,"type":"quantitative"},"y":{"datum":1.13413,"type":"quantitative"}}},
{"data":{"values":[{}]},"mark":{"type":"text","text":"1.13413","fontSize":9,"color":"#ffffff"},"encoding":{"x":{"datum":291.6,"type":"quantitative"},"y":{"datum":1.13413,"type":"quantitative"}}}
]
},
{
"width":931,"height":131,
"layer":[
{"data":{"name":"vl"},"mark":{"type":"rule","strokeWidth":1,"opacity":0.9},"encoding":{"x":{"field":"i","type":"quantitative","scale":{"domain":[-0.457,283.38],"nice":false,"zero":false},"axis":{"labels":false,"ticks":false,"domain":false,"grid":false,"title":null}},"color":{"field":"t","type":"nominal","scale":{"domain":["r","b","s"],"range":["#ff0000","#0000ff","#000000"]},"legend":null},"strokeDash":{"field":"t","type":"nominal","scale":{"domain":["r","b","s"],"range":[[1,0],[1,0],[2,2]]},"legend":null}}},
{"data":{"name":"c"},"mark":{"type":"line","color":"#ff2020","strokeWidth":1,"interpolate":"monotone"},"encoding":{"x":{"field":"i","type":"quantitative"},"y":{"field":"j","type":"quantitative","scale":{"domain":[0,100],"nice":false,"zero":false},"axis":{"orient":"right","values":[0,100],"labelFlush":true,"title":null}}}},
{"data":{"values":[{"lv":90},{"lv":85},{"lv":15},{"lv":10}]},"mark":{"type":"rule","color":"#2b2b88","strokeWidth":1},"encoding":{"y":{"field":"lv","type":"quantitative"}}},
{"data":{"values":[{}]},"mark":{"type":"rect","color":"#9a9aee","opacity":0.5},"encoding":{"x":{"datum":21.5,"type":"quantitative"},"x2":{"datum":277},"y":{"datum":100,"type":"quantitative"},"y2":{"datum":69.5}}},
{"data":{"values":[{}]},"mark":{"type":"text","text":"FOREX-INDIKATOREN.COM","font":"Liberation Sans","fontSize":62,"fontWeight":"bold","fontStyle":"italic","color":"#e060c0","opacity":0.5,"align":"center","baseline":"alphabetic"},"encoding":{"x":{"datum":148.9,"type":"quantitative"},"y":{"datum":78.6,"type":"quantitative"}}},
{"data":{"values":[{}]},"mark":{"type":"text","text":"JMO(3) 72.2222 57.6607","align":"left","fontSize":9,"color":"#202020"},"encoding":{"x":{"datum":0.15,"type":"quantitative"},"y":{"datum":93.1,"type":"quantitative"}}},
{"data":{"values":[{"lv":90,"s":"90"},{"lv":10,"s":"10"}]},"layer":[
{"mark":{"type":"point","shape":"M-1,-0.86L1,-0.86L1,0.86L-1,0.86Z","filled":true,"color":"#23237a","size":196,"opacity":1},"encoding":{"x":{"datum":286.1,"type":"quantitative"},"y":{"field":"lv","type":"quantitative"}}},
{"mark":{"type":"text","fontSize":9,"color":"#ffffff"},"encoding":{"x":{"datum":286.1,"type":"quantitative"},"y":{"field":"lv","type":"quantitative"},"text":{"field":"s"}}}]},
{"data":{"values":[{"lv":85,"s":"85"},{"lv":15,"s":"15"}]},"layer":[
{"mark":{"type":"point","shape":"M-1,-0.86L1,-0.86L1,0.86L-1,0.86Z","filled":true,"color":"#23237a","size":196,"opacity":1},"encoding":{"x":{"datum":286.1,"type":"quantitative"},"y":{"field":"lv","type":"quantitative"}}},
{"mark":{"type":"text","fontSize":9,"color":"#ffffff"},"encoding":{"x":{"datum":286.1,"type":"quantitative"},"y":{"field":"lv","type":"quantitative"},"text":{"field":"s"}}}]}
]
},
{
"width":931,"height":131,
"layer":[
{"data":{"name":"c"},"mark":{"type":"bar","width":2.4,"color":"#284878","opacity":0},"encoding":{"x":{"field":"i","type":"quantitative","scale":{"domain":[-0.457,283.38],"nice":false,"zero":false},"axis":{"orient":"bottom","values":[24,48,72,96,120,144,168,192,216,240,264],"labels":false,"domain":false,"ticks":true,"tickSize":4,"grid":false,"title":null}},"y":{"field":"v","type":"quantitative","scale":{"domain":[0,6580],"nice":false,"zero":false},"axis":{"orient":"right","values":[0,6226],"labelFlush":true,"format":"d","title":null}}}},
{"data":{"name":"vl"},"mark":{"type":"rule","strokeWidth":1,"opacity":0.9},"encoding":{"x":{"field":"i","type":"quantitative"},"color":{"field":"t","type":"nominal","scale":{"domain":["r","b","s"],"range":["#ff0000","#0000ff","#000000"]},"legend":null},"strokeDash":{"field":"t","type":"nominal","scale":{"domain":["r","b","s"],"range":[[1,0],[1,0],[2,2]]},"legend":null}}},
{"data":{"name":"c"},"mark":{"type":"bar","width":2.4,"color":"#284878"},"encoding":{"x":{"field":"i","type":"quantitative"},"y":{"field":"v","type":"quantitative"}}},
{"data":{"values":[{}]},"mark":{"type":"rule","color":"#000000","strokeWidth":1.2},"encoding":{"y":{"datum":1119,"type":"quantitative"}}},
{"data":{"values":[{}]},"mark":{"type":"text","text":"Volumes (v1.3) 365","align":"left","fontSize":9,"color":"#303030"},"encoding":{"x":{"datum":1.07,"type":"quantitative"},"y":{"datum":6078,"type":"quantitative"}}},
{"data":{"values":[{}]},"mark":{"type":"text","text":"Candle:\u00a0 09:00","align":"left","font":"Liberation Sans","fontSize":13,"color":"#ff33cc"},"encoding":{"x":{"datum":254.4,"type":"quantitative"},"y":{"datum":6078,"type":"quantitative"}}},
{"data":{"values":[{}]},"mark":{"type":"point","shape":"M-1,-0.325L1,-0.325L1,0.325L-1,0.325Z","filled":true,"color":"#000000","size":1600,"opacity":1},"encoding":{"x":{"datum":290.1,"type":"quantitative"},"y":{"datum":1119,"type":"quantitative"}}},
{"data":{"values":[{}]},"mark":{"type":"text","text":"1119","fontSize":9,"color":"#ffffff"},"encoding":{"x":{"datum":290.1,"type":"quantitative"},"y":{"datum":1119,"type":"quantitative"}}}
]
},
{
"width":931,"height":16,
"view":{"stroke":null},
"data":{"name":"vl"},
"layer":[
{"data":{"values":[{}]},"mark":{"type":"text","text":"29 Dec 02:00","align":"left","fontSize":9,"color":"#000000","dx":1},"encoding":{"x":{"datum":216,"type":"quantitative","axis":null,"scale":{"domain":[-0.457,283.38],"nice":false,"zero":false}}}},
{"transform":[{"filter":"datum.k==0"}],"layer":[{"mark":{"type":"tick","color":"#ff0000","thickness":85,"size":15,"opacity":1,"clip":true},"encoding":{"x":{"field":"i","type":"quantitative","axis":null}}},{"mark":{"type":"text","color":"#ffffff","fontSize":9,"clip":true},"encoding":{"x":{"field":"i","type":"quantitative","axis":null},"text":{"field":"s"}}}]},
{"transform":[{"filter":"datum.k==1"}],"layer":[{"mark":{"type":"tick","color":"#ff0000","thickness":85,"size":15,"opacity":1},"encoding":{"x":{"field":"i","type":"quantitative","axis":null}}},{"mark":{"type":"text","color":"#ffffff","fontSize":9},"encoding":{"x":{"field":"i","type":"quantitative","axis":null},"text":{"field":"s"}}}]},
{"transform":[{"filter":"datum.k==2"}],"layer":[{"mark":{"type":"tick","color":"#ff0000","thickness":85,"size":15,"opacity":1},"encoding":{"x":{"field":"i","type":"quantitative","axis":null}}},{"mark":{"type":"text","color":"#ffffff","fontSize":9},"encoding":{"x":{"field":"i","type":"quantitative","axis":null},"text":{"field":"s"}}}]},
{"transform":[{"filter":"datum.k==3"}],"layer":[{"mark":{"type":"tick","color":"#ff0000","thickness":85,"size":15,"opacity":1},"encoding":{"x":{"field":"i","type":"quantitative","axis":null}}},{"mark":{"type":"text","color":"#ffffff","fontSize":9},"encoding":{"x":{"field":"i","type":"quantitative","axis":null},"text":{"field":"s"}}}]},
{"transform":[{"filter":"datum.k==4"}],"layer":[{"mark":{"type":"tick","color":"#ff0000","thickness":85,"size":15,"opacity":1},"encoding":{"x":{"field":"i","type":"quantitative","axis":null}}},{"mark":{"type":"text","color":"#ffffff","fontSize":9},"encoding":{"x":{"field":"i","type":"quantitative","axis":null},"text":{"field":"s"}}}]},
{"transform":[{"filter":"datum.k==5"}],"layer":[{"mark":{"type":"tick","color":"#ff0000","thickness":85,"size":15,"opacity":1},"encoding":{"x":{"field":"i","type":"quantitative","axis":null}}},{"mark":{"type":"text","color":"#ffffff","fontSize":9},"encoding":{"x":{"field":"i","type":"quantitative","axis":null},"text":{"field":"s"}}}]},
{"transform":[{"filter":"datum.k==6"}],"layer":[{"mark":{"type":"tick","color":"#ff0000","thickness":85,"size":15,"opacity":1},"encoding":{"x":{"field":"i","type":"quantitative","axis":null}}},{"mark":{"type":"text","color":"#ffffff","fontSize":9},"encoding":{"x":{"field":"i","type":"quantitative","axis":null},"text":{"field":"s"}}}]},
{"transform":[{"filter":"datum.k==7"}],"layer":[{"mark":{"type":"tick","color":"#ff0000","thickness":85,"size":15,"opacity":1},"encoding":{"x":{"field":"i","type":"quantitative","axis":null}}},{"mark":{"type":"text","color":"#ffffff","fontSize":9},"encoding":{"x":{"field":"i","type":"quantitative","axis":null},"text":{"field":"s"}}}]},
{"transform":[{"filter":"datum.k==8"}],"layer":[{"mark":{"type":"tick","color":"#ff0000","thickness":85,"size":15,"opacity":1},"encoding":{"x":{"field":"i","type":"quantitative","axis":null}}},{"mark":{"type":"text","color":"#ffffff","fontSize":9},"encoding":{"x":{"field":"i","type":"quantitative","axis":null},"text":{"field":"s"}}}]},
{"transform":[{"filter":"datum.k==9"}],"layer":[{"mark":{"type":"tick","color":"#ff0000","thickness":85,"size":15,"opacity":1},"encoding":{"x":{"field":"i","type":"quantitative","axis":null}}},{"mark":{"type":"text","color":"#ffffff","fontSize":9},"encoding":{"x":{"field":"i","type":"quantitative","axis":null},"text":{"field":"s"}}}]},
{"transform":[{"filter":"datum.k==10"}],"layer":[{"mark":{"type":"tick","color":"#ff0000","thickness":85,"size":15,"opacity":1},"encoding":{"x":{"field":"i","type":"quantitative","axis":null}}},{"mark":{"type":"text","color":"#ffffff","fontSize":9},"encoding":{"x":{"field":"i","type":"quantitative","axis":null},"text":{"field":"s"}}}]},
{"transform":[{"filter":"datum.k==11"}],"layer":[{"mark":{"type":"tick","color":"#ff0000","thickness":85,"size":15,"opacity":1},"encoding":{"x":{"field":"i","type":"quantitative","axis":null}}},{"mark":{"type":"text","color":"#ffffff","fontSize":9},"encoding":{"x":{"field":"i","type":"quantitative","axis":null},"text":{"field":"s"}}}]},
{"transform":[{"filter":"datum.k==12"}],"layer":[{"mark":{"type":"tick","color":"#ff0000","thickness":85,"size":15,"opacity":1},"encoding":{"x":{"field":"i","type":"quantitative","axis":null}}},{"mark":{"type":"text","color":"#ffffff","fontSize":9},"encoding":{"x":{"field":"i","type":"quantitative","axis":null},"text":{"field":"s"}}}]},
{"transform":[{"filter":"datum.k==13"}],"layer":[{"mark":{"type":"tick","color":"#ff0000","thickness":85,"size":15,"opacity":1},"encoding":{"x":{"field":"i","type":"quantitative","axis":null}}},{"mark":{"type":"text","color":"#ffffff","fontSize":9},"encoding":{"x":{"field":"i","type":"quantitative","axis":null},"text":{"field":"s"}}}]},
{"transform":[{"filter":"datum.k==14"}],"layer":[{"mark":{"type":"tick","color":"#ff0000","thickness":85,"size":15,"opacity":1},"encoding":{"x":{"field":"i","type":"quantitative","axis":null}}},{"mark":{"type":"text","color":"#ffffff","fontSize":9},"encoding":{"x":{"field":"i","type":"quantitative","axis":null},"text":{"field":"s"}}}]},
{"transform":[{"filter":"datum.k==15"}],"layer":[{"mark":{"type":"tick","color":"#0000ff","thickness":85,"size":15,"opacity":1},"encoding":{"x":{"field":"i","type":"quantitative","axis":null}}},{"mark":{"type":"text","color":"#ffffff","fontSize":9},"encoding":{"x":{"field":"i","type":"quantitative","axis":null},"text":{"field":"s"}}}]},
{"transform":[{"filter":"datum.k==16"}],"layer":[{"mark":{"type":"tick","color":"#0000ff","thickness":85,"size":15,"opacity":1},"encoding":{"x":{"field":"i","type":"quantitative","axis":null}}},{"mark":{"type":"text","color":"#ffffff","fontSize":9},"encoding":{"x":{"field":"i","type":"quantitative","axis":null},"text":{"field":"s"}}}]},
{"transform":[{"filter":"datum.k==17"}],"layer":[{"mark":{"type":"tick","color":"#0000ff","thickness":85,"size":15,"opacity":1},"encoding":{"x":{"field":"i","type":"quantitative","axis":null}}},{"mark":{"type":"text","color":"#ffffff","fontSize":9},"encoding":{"x":{"field":"i","type":"quantitative","axis":null},"text":{"field":"s"}}}]},
{"transform":[{"filter":"datum.k==18"}],"layer":[{"mark":{"type":"tick","color":"#0000ff","thickness":85,"size":15,"opacity":1},"encoding":{"x":{"field":"i","type":"quantitative","axis":null}}},{"mark":{"type":"text","color":"#ffffff","fontSize":9},"encoding":{"x":{"field":"i","type":"quantitative","axis":null},"text":{"field":"s"}}}]},
{"transform":[{"filter":"datum.k==19"}],"layer":[{"mark":{"type":"tick","color":"#0000ff","thickness":85,"size":15,"opacity":1},"encoding":{"x":{"field":"i","type":"quantitative","axis":null}}},{"mark":{"type":"text","color":"#ffffff","fontSize":9},"encoding":{"x":{"field":"i","type":"quantitative","axis":null},"text":{"field":"s"}}}]},
{"transform":[{"filter":"datum.k==20"}],"layer":[{"mark":{"type":"tick","color":"#0000ff","thickness":85,"size":15,"opacity":1},"encoding":{"x":{"field":"i","type":"quantitative","axis":null}}},{"mark":{"type":"text","color":"#ffffff","fontSize":9},"encoding":{"x":{"field":"i","type":"quantitative","axis":null},"text":{"field":"s"}}}]},
{"transform":[{"filter":"datum.k==21"}],"layer":[{"mark":{"type":"tick","color":"#0000ff","thickness":85,"size":15,"opacity":1},"encoding":{"x":{"field":"i","type":"quantitative","axis":null}}},{"mark":{"type":"text","color":"#ffffff","fontSize":9},"encoding":{"x":{"field":"i","type":"quantitative","axis":null},"text":{"field":"s"}}}]},
{"transform":[{"filter":"datum.k==22"}],"layer":[{"mark":{"type":"tick","color":"#0000ff","thickness":85,"size":15,"opacity":1},"encoding":{"x":{"field":"i","type":"quantitative","axis":null}}},{"mark":{"type":"text","color":"#ffffff","fontSize":9},"encoding":{"x":{"field":"i","type":"quantitative","axis":null},"text":{"field":"s"}}}]},
{"transform":[{"filter":"datum.k==23"}],"layer":[{"mark":{"type":"tick","color":"#0000ff","thickness":85,"size":15,"opacity":1},"encoding":{"x":{"field":"i","type":"quantitative","axis":null}}},{"mark":{"type":"text","color":"#ffffff","fontSize":9},"encoding":{"x":{"field":"i","type":"quantitative","axis":null},"text":{"field":"s"}}}]},
{"transform":[{"filter":"datum.k==24"}],"layer":[{"mark":{"type":"tick","color":"#0000ff","thickness":85,"size":15,"opacity":1},"encoding":{"x":{"field":"i","type":"quantitative","axis":null}}},{"mark":{"type":"text","color":"#ffffff","fontSize":9},"encoding":{"x":{"field":"i","type":"quantitative","axis":null},"text":{"field":"s"}}}]},
{"transform":[{"filter":"datum.k==25"}],"layer":[{"mark":{"type":"tick","color":"#0000ff","thickness":85,"size":15,"opacity":1},"encoding":{"x":{"field":"i","type":"quantitative","axis":null}}},{"mark":{"type":"text","color":"#ffffff","fontSize":9},"encoding":{"x":{"field":"i","type":"quantitative","axis":null},"text":{"field":"s"}}}]},
{"transform":[{"filter":"datum.k==26"}],"layer":[{"mark":{"type":"tick","color":"#0000ff","thickness":85,"size":15,"opacity":1},"encoding":{"x":{"field":"i","type":"quantitative","axis":null}}},{"mark":{"type":"text","color":"#ffffff","fontSize":9},"encoding":{"x":{"field":"i","type":"quantitative","axis":null},"text":{"field":"s"}}}]},
{"transform":[{"filter":"datum.k==27"}],"layer":[{"mark":{"type":"tick","color":"#0000ff","thickness":85,"size":15,"opacity":1},"encoding":{"x":{"field":"i","type":"quantitative","axis":null}}},{"mark":{"type":"text","color":"#ffffff","fontSize":9},"encoding":{"x":{"field":"i","type":"quantitative","axis":null},"text":{"field":"s"}}}]},
{"transform":[{"filter":"datum.k==28"}],"layer":[{"mark":{"type":"tick","color":"#0000ff","thickness":85,"size":15,"opacity":1},"encoding":{"x":{"field":"i","type":"quantitative","axis":null}}},{"mark":{"type":"text","color":"#ffffff","fontSize":9},"encoding":{"x":{"field":"i","type":"quantitative","axis":null},"text":{"field":"s"}}}]}
]
}
]
}
